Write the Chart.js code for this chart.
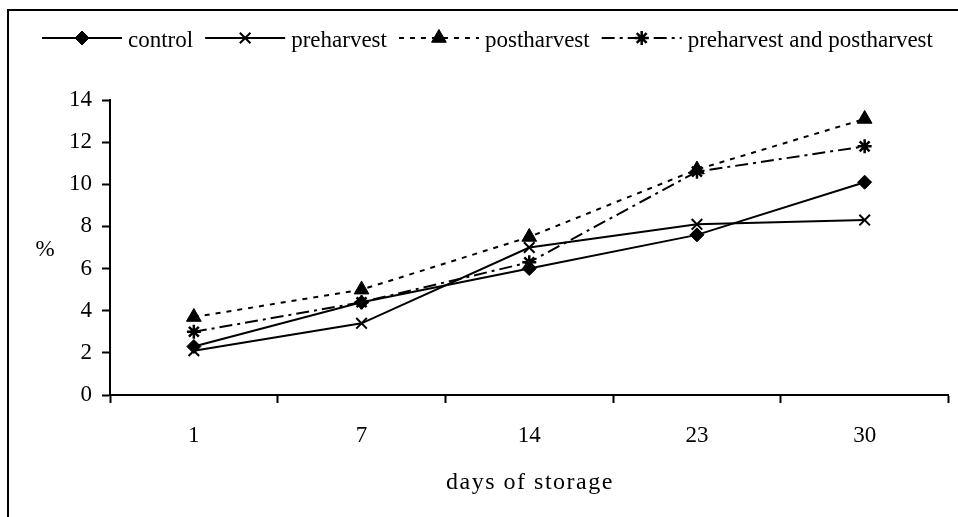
<!DOCTYPE html>
<html>
<head>
<meta charset="utf-8">
<script src="https://cdn.jsdelivr.net/npm/chart.js"></script>
<style>
html,body{margin:0;padding:0;background:#fff;}
#wrap{width:958px;height:517px;position:relative;}
</style>
</head>
<body>
<div id="wrap"><canvas id="c" width="958" height="517"></canvas></div>
<script>
const categories = ['1', '7', '14', '23', '30'];
const control = [2.3, 4.4, 6.0, 7.6, 10.1];
const preharvest = [2.1, 3.4, 7.0, 8.1, 8.3];
const postharvest = [3.7, 5.0, 7.5, 10.7, 13.1];
const prePost = [3.0, 4.4, 6.3, 10.6, 11.8];
const seriesNames = ['control', 'preharvest', 'postharvest', 'preharvest and postharvest'];
const yTicks = [0, 2, 4, 6, 8, 10, 12, 14];
const xTitle = 'days of storage';
const yTitle = '%';

const FONT = '"Liberation Serif", "Times New Roman", serif';
const FS = 23;

function mk(label, data, style, radius, dash, pbw) {
  return {
    label, data,
    borderColor: '#000', backgroundColor: '#000',
    borderWidth: 2, borderDash: dash,
    pointStyle: style, pointRadius: radius, pointHoverRadius: radius,
    pointBackgroundColor: '#000', pointBorderColor: '#000', pointBorderWidth: pbw,
    tension: 0, fill: false
  };
}

const datasets = [
  mk(seriesNames[0], control, 'rectRot', 7, [], 1),
  mk(seriesNames[1], preharvest, 'crossRot', 7.5, [], 2),
  mk(seriesNames[2], postharvest, 'triangle', 8.5, [5, 6], 1),
  mk(seriesNames[3], prePost, 'star', 7, [13, 5, 3, 5], 2.5)
];

function drawMarker(ctx, ds, x, y) {
  ctx.save();
  ctx.fillStyle = '#000'; ctx.strokeStyle = '#000';
  ctx.lineWidth = ds.pointBorderWidth;
  ctx.setLineDash([]);
  if (Chart.helpers && Chart.helpers.drawPoint) {
    Chart.helpers.drawPoint(ctx, {pointStyle: ds.pointStyle, radius: ds.pointRadius, borderWidth: ds.pointBorderWidth, rotation: 0}, x, y);
  }
  ctx.restore();
}

function spacedText(ctx, text, cx, y, spacing) {
  const chars = Array.from(text);
  const widths = chars.map(c => ctx.measureText(c).width);
  const total = widths.reduce((a, b) => a + b, 0) + spacing * (chars.length - 1);
  let x = cx - total / 2;
  ctx.textAlign = 'left';
  chars.forEach((c, i) => { ctx.fillText(c, x, y); x += widths[i] + spacing; });
}

const customPlugin = {
  id: 'custom',
  beforeDraw(chart) {
    const ctx = chart.ctx;
    ctx.save();
    ctx.fillStyle = '#fff';
    ctx.fillRect(0, 0, chart.width, chart.height);
    ctx.strokeStyle = '#000';
    ctx.lineWidth = 2;
    ctx.beginPath();
    ctx.moveTo(8, 517);
    ctx.lineTo(8, 10);
    ctx.lineTo(958, 10);
    ctx.stroke();
    ctx.restore();
  },
  afterDraw(chart) {
    const ctx = chart.ctx;
    const ca = chart.chartArea;
    ctx.save();
    ctx.font = FS + 'px ' + FONT;
    ctx.fillStyle = '#000';
    // y title (horizontal)
    ctx.textAlign = 'center';
    ctx.textBaseline = 'middle';
    ctx.fillText(yTitle, 45, (ca.top + ca.bottom) / 2 + 2);
    // x title
    ctx.textBaseline = 'alphabetic';
    ctx.font = '24px ' + FONT;
    spacedText(ctx, xTitle, (ca.left + ca.right) / 2, 489, 1.5);
    ctx.font = FS + 'px ' + FONT;
    // legend
    ctx.textAlign = 'left';
    let x = 42;
    const ly = 38;
    chart.data.datasets.forEach((ds) => {
      ctx.save();
      ctx.strokeStyle = '#000';
      ctx.lineWidth = 2;
      ctx.setLineDash(ds.borderDash || []);
      ctx.beginPath();
      ctx.moveTo(x, ly);
      ctx.lineTo(x + 80, ly);
      ctx.stroke();
      ctx.restore();
      drawMarker(ctx, ds, x + 40, ly);
      x += 86;
      ctx.fillText(ds.label, x, 46.5);
      x += ctx.measureText(ds.label).width + 12;
    });
    ctx.restore();
  }
};

new Chart(document.getElementById('c'), {
  type: 'line',
  data: { labels: categories, datasets },
  options: {
    responsive: false,
    animation: false,
    events: [],
    layout: { padding: { left: 0, right: 6, top: 100, bottom: 0 } },
    plugins: { legend: { display: false }, tooltip: { enabled: false } },
    scales: {
      x: {
        type: 'category',
        offset: true,
        grid: { offset: true, drawOnChartArea: false, drawTicks: true, tickLength: 8, tickWidth: 2, tickColor: '#000' },
        border: { display: true, color: '#000', width: 2 },
        ticks: { color: '#000', font: { family: FONT, size: FS }, padding: 19, maxRotation: 0 },
        title: { display: false, text: xTitle },
        afterFit(scale) { scale.height = 122; }
      },
      y: {
        min: 0, max: 14,
        afterBuildTicks(scale) { scale.ticks = yTicks.map(v => ({ value: v })); },
        grid: { drawOnChartArea: false, drawTicks: true, tickLength: 8, tickWidth: 2, tickColor: '#000' },
        border: { display: true, color: '#000', width: 2 },
        ticks: { color: '#000', font: { family: FONT, size: FS }, padding: 10 },
        afterFit(scale) { scale.width = 110; }
      }
    }
  },
  plugins: [customPlugin]
});
</script>
</body>
</html>
